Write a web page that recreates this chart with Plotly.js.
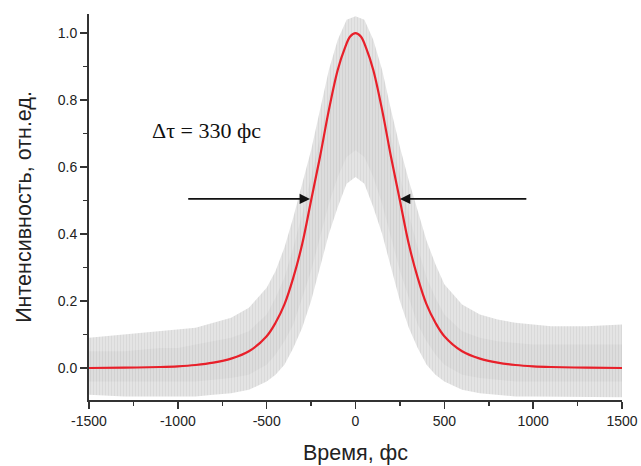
<!DOCTYPE html>
<html>
<head>
<meta charset="utf-8">
<script src="https://cdn.plot.ly/plotly-3.0.1.min.js"></script>
<style>html,body{margin:0;padding:0;background:#fff;}#chart{width:641px;height:466px;}</style>
</head>
<body>
<div id="chart"></div>
<script>
// Red fitted curve
const timeFit = [-1500,-1300,-1100,-1000,-900,-800,-700,-600,-500,-450,-400,-350,-300,-250,-200,-150,-100,-60,-30,0,30,60,100,150,200,250,300,350,400,450,500,600,700,800,900,1000,1100,1300,1500];
const intensityFit = [0.000,0.001,0.003,0.005,0.009,0.016,0.028,0.050,0.095,0.135,0.19,0.27,0.37,0.50,0.63,0.77,0.89,0.955,0.99,1.00,0.99,0.955,0.89,0.77,0.63,0.50,0.37,0.27,0.19,0.135,0.095,0.050,0.028,0.016,0.009,0.005,0.003,0.001,0.000];

// Upper / lower edges of the grey fringe band
const timeBand = [-1500,-1300,-1100,-1000,-900,-800,-700,-600,-500,-450,-400,-350,-300,-250,-200,-150,-100,-50,0,50,100,150,200,250,300,350,400,450,500,600,700,800,900,1000,1100,1300,1500];
const bandUpper = [0.09,0.10,0.11,0.115,0.12,0.135,0.15,0.18,0.24,0.29,0.36,0.45,0.55,0.65,0.77,0.89,0.98,1.04,1.05,1.04,0.98,0.89,0.77,0.66,0.56,0.47,0.38,0.31,0.25,0.19,0.16,0.145,0.135,0.13,0.125,0.125,0.13];
const bandLower = [-0.08,-0.085,-0.085,-0.085,-0.085,-0.08,-0.075,-0.065,-0.04,-0.02,0.01,0.06,0.12,0.20,0.30,0.40,0.48,0.55,0.57,0.55,0.48,0.40,0.30,0.20,0.12,0.06,0.01,-0.02,-0.04,-0.065,-0.075,-0.08,-0.085,-0.085,-0.085,-0.087,-0.087];

// Denser inner part of the band
const innerUpper = [0.05,0.05,0.06,0.06,0.07,0.08,0.09,0.11,0.16,0.21,0.27,0.36,0.46,0.57,0.69,0.81,0.91,0.98,1.00,0.98,0.91,0.81,0.69,0.57,0.46,0.36,0.27,0.21,0.16,0.11,0.09,0.08,0.075,0.07,0.07,0.07,0.07];
const innerLower = [-0.04,-0.04,-0.04,-0.04,-0.04,-0.035,-0.03,-0.02,0.01,0.04,0.08,0.13,0.21,0.29,0.39,0.49,0.57,0.63,0.65,0.63,0.57,0.49,0.39,0.29,0.21,0.13,0.08,0.04,0.01,-0.02,-0.03,-0.035,-0.04,-0.04,-0.04,-0.04,-0.04];

const xTickVals = [-1500,-1000,-500,0,500,1000,1500];
const xTickText = ['-1500','-1000','-500','0','500','1000','1500'];
const yTickVals = [0.0,0.2,0.4,0.6,0.8,1.0];
const yTickText = ['0.0','0.2','0.4','0.6','0.8','1.0'];

const fwhmLeft = -256, fwhmRight = 250, fwhmLevel = 0.505;
const arrowTailLeft = -950, arrowTailRight = 970;
const labelText = 'Δτ = 330 фс';

const traces = [
  {x: timeBand, y: bandLower, mode: 'lines', line: {width: 0, color: 'rgba(0,0,0,0)'}, hoverinfo: 'skip', showlegend: false},
  {x: timeBand, y: bandUpper, mode: 'lines', line: {width: 0, color: 'rgba(0,0,0,0)'}, fill: 'tonexty',
   fillcolor: '#e2e2e2',
   fillpattern: {shape: '|', size: 3, solidity: 0.25, fgcolor: '#d6d6d6', bgcolor: '#e4e4e4'},
   hoverinfo: 'skip', showlegend: false},
  {x: timeBand, y: innerLower, mode: 'lines', line: {width: 0, color: 'rgba(0,0,0,0)'}, hoverinfo: 'skip', showlegend: false},
  {x: timeBand, y: innerUpper, mode: 'lines', line: {width: 0, color: 'rgba(0,0,0,0)'}, fill: 'tonexty',
   fillcolor: '#dcdcdc',
   fillpattern: {shape: '|', size: 3, solidity: 0.3, fgcolor: '#cfcfcf', bgcolor: '#dddddd'},
   hoverinfo: 'skip', showlegend: false},
  {x: timeFit, y: intensityFit, mode: 'lines', line: {color: '#e8202a', width: 2.2, shape: 'spline', smoothing: 1}, showlegend: false}
];

const layout = {
  width: 641, height: 466,
  margin: {l: 89, r: 19, t: 14, b: 66},
  paper_bgcolor: '#ffffff', plot_bgcolor: '#ffffff',
  showlegend: false,
  font: {family: 'Liberation Sans, Arial, sans-serif', color: '#222'},
  xaxis: {
    range: [-1500, 1500], tickvals: xTickVals, ticktext: xTickText, ticks: 'outside', ticklen: 7, tickwidth: 1.5, tickcolor: '#333',
    showline: true, linecolor: '#333', linewidth: 2, showgrid: false, zeroline: false,
    tickfont: {size: 14, color: '#222'},
    minor: {dtick: 250, tick0: -1500, ticks: 'outside', ticklen: 4, tickwidth: 1.5, tickcolor: '#333', showgrid: false},
    title: {text: 'Время, фс', font: {size: 21.5, color: '#222'}, standoff: 17}
  },
  yaxis: {
    range: [-0.0955, 1.057], tickvals: yTickVals, ticktext: yTickText, ticks: 'outside', ticklen: 7, tickwidth: 1.5, tickcolor: '#333',
    showline: true, linecolor: '#333', linewidth: 2, showgrid: false, zeroline: false,
    tickfont: {size: 14, color: '#222'},
    minor: {dtick: 0.1, tick0: 0, ticks: 'outside', ticklen: 4, tickwidth: 1.5, tickcolor: '#333', showgrid: false},
    title: {text: 'Интенсивность, отн.ед.', font: {size: 21.5, color: '#222'}, standoff: 20}
  },
  annotations: [
    {x: fwhmLeft, y: fwhmLevel, ax: arrowTailLeft, ay: fwhmLevel, xref: 'x', yref: 'y', axref: 'x', ayref: 'y',
     text: '', showarrow: true, arrowhead: 2, arrowsize: 1.3, arrowwidth: 1.6, arrowcolor: '#111'},
    {x: fwhmRight, y: fwhmLevel, ax: arrowTailRight, ay: fwhmLevel, xref: 'x', yref: 'y', axref: 'x', ayref: 'y',
     text: '', showarrow: true, arrowhead: 2, arrowsize: 1.3, arrowwidth: 1.6, arrowcolor: '#111'},
    {x: -841, y: 0.71, xref: 'x', yref: 'y', text: labelText, showarrow: false,
     font: {family: 'Liberation Serif, Times New Roman, serif', size: 22, color: '#111'}}
  ]
};

Plotly.newPlot('chart', traces, layout, {displayModeBar: false, staticPlot: true});
</script>
</body>
</html>
